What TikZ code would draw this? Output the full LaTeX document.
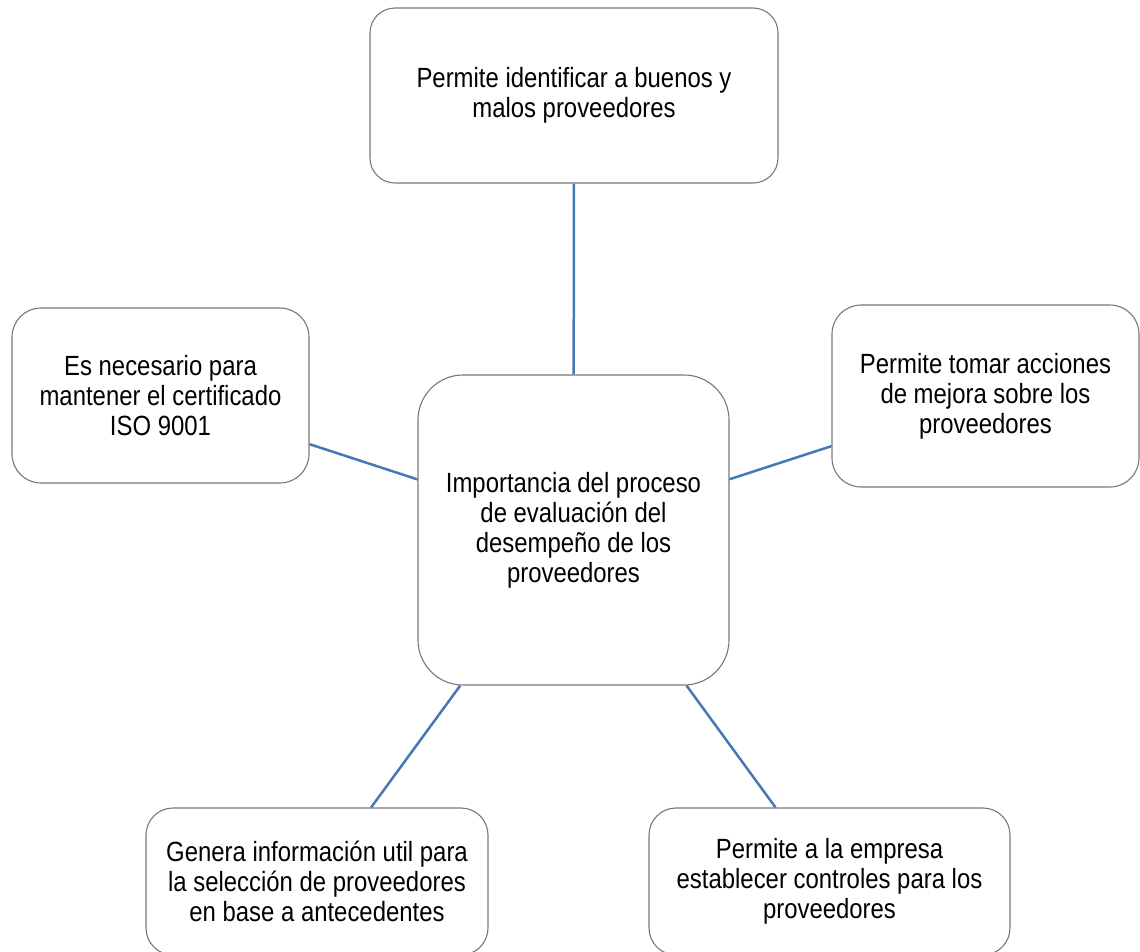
\documentclass[tikz,border=0pt]{standalone}
\usepackage{fontspec}
\setmainfont{Liberation Sans}[FakeStretch=0.86]
\definecolor{boxline}{RGB}{120,120,120}
\definecolor{linkblue}{RGB}{70,120,180}
\tikzset{
  card/.style={draw=boxline, line width=1.1pt, fill=white, inner sep=0pt,
    align=center, font=\fontsize{27.8}{30}\selectfont, text=black},
  link/.style={draw=linkblue, line width=2.5pt}
}
\begin{document}
\begin{tikzpicture}[x=1pt,y=-1pt]
\useasboundingbox (0,0) rectangle (1140,951);
\node[card, rounded corners=25pt, minimum width=408pt, minimum height=175pt] (top) at (574,95.5)
  {Permite identificar a buenos y\\malos proveedores};
\node[card, rounded corners=29pt, minimum width=297pt, minimum height=175pt] (left) at (160.5,395.5)
  {Es necesario para\\mantener el certificado\\ISO 9001};
\node[card, rounded corners=29pt, minimum width=307pt, minimum height=182pt] (right) at (985.5,396)
  {Permite tomar acciones\\de mejora sobre los\\proveedores};
\node[card, rounded corners=45pt, minimum width=311pt, minimum height=310pt] (mid) at (573.5,530)
  {Importancia del proceso\\de evaluación del\\desempeño de los\\proveedores};
\node[card, rounded corners=27pt, minimum width=342pt, minimum height=147pt] (bl) at (317,881.5)
  {Genera información util para\\la selección de proveedores\\en base a antecedentes};
\node[card, rounded corners=27pt, minimum width=361pt, minimum height=147pt] (br) at (829.5,881.5)
  {Permite a la empresa\\establecer controles para los\\proveedores};
\draw[link] (top) -- (mid);
\draw[link] (left) -- (mid);
\draw[link] (right) -- (mid);
\draw[link] (bl) -- (mid);
\draw[link] (br) -- (mid);
\end{tikzpicture}
\end{document}
